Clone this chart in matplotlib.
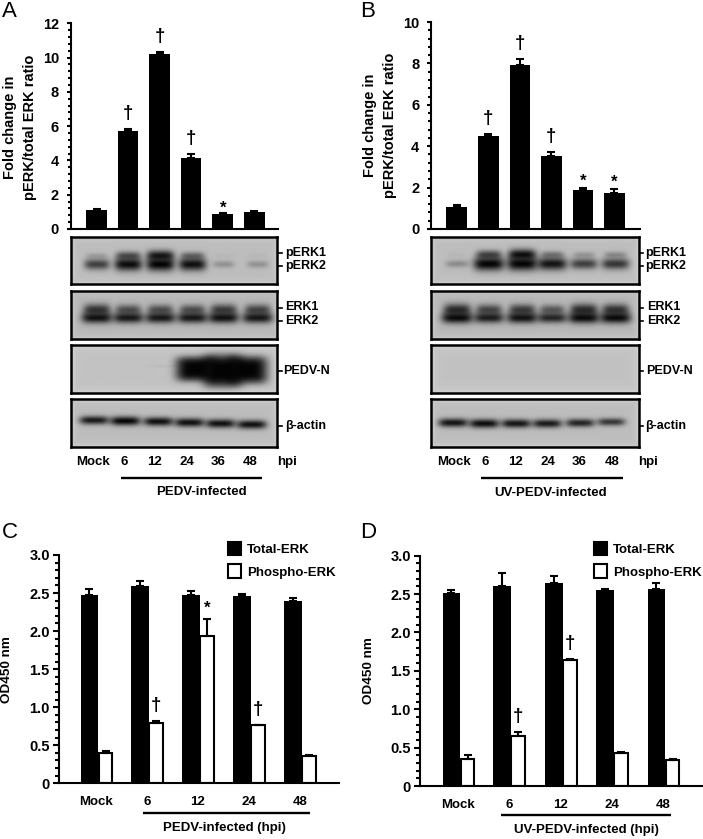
# western blot + ELISA figure, panels A-D
import numpy as np
import matplotlib
matplotlib.use("Agg")
import matplotlib.pyplot as plt
from matplotlib.patches import Patch

W, H = 703, 839
plt.rcParams['font.family'] = ['Liberation Sans', 'DejaVu Sans']
plt.rcParams['font.weight'] = 'bold'

# panel A / B: fold change
fold_a = [1.1, 5.7, 10.2, 4.15, 0.9, 1.0]
fold_a_err = [0.05, 0.15, 0.15, 0.2, 0.05, 0.05]
fold_a_sig = ['', 'd', 'd', 'd', '*', '']
fold_b = [1.08, 4.5, 7.9, 3.55, 1.9, 1.75]
fold_b_err = [0.08, 0.1, 0.3, 0.15, 0.08, 0.2]
fold_b_sig = ['', 'd', 'd', 'd', '*', '*']
lanes = ['Mock', '6', '12', '24', '36', '48']

# panel C / D: OD450
groups = ['Mock', '6', '12', '24', '48']
total_c = [2.48, 2.59, 2.48, 2.46, 2.40]
total_c_err = [0.07, 0.07, 0.05, 0.03, 0.03]
phospho_c = [0.40, 0.79, 1.93, 0.76, 0.36]
phospho_c_err = [0.03, 0.03, 0.23, 0.01, 0.01]
phospho_c_sig = ['', 'd', '*', 'd', '']
total_d = [2.51, 2.60, 2.65, 2.55, 2.57]
total_d_err = [0.04, 0.18, 0.09, 0.01, 0.08]
phospho_d = [0.35, 0.65, 1.64, 0.43, 0.34]
phospho_d_err = [0.05, 0.05, 0.01, 0.01, 0.01]
phospho_d_sig = ['', 'd', 'd', '', '']

# band strengths per lane (0 = nothing, 1 = burnt out)
perk1_a = [0.15, 0.55, 0.85, 0.42, 0.03, 0.03]
perk2_a = [0.65, 0.92, 0.97, 0.9, 0.22, 0.22]
erk1_a = [0.7, 0.55, 0.55, 0.55, 0.65, 0.6]
erk2_a = [0.88, 0.85, 0.85, 0.85, 0.88, 0.85]
pedv_a = [0.0, 0.0, 0.04, 1.0, 1.0, 1.0]
actin_a = [0.85, 0.95, 0.9, 0.9, 0.9, 0.9]
perk1_b = [0.03, 0.6, 0.9, 0.35, 0.2, 0.25]
perk2_b = [0.25, 1.0, 1.0, 0.88, 0.65, 0.7]
erk1_b = [0.75, 0.6, 0.65, 0.5, 0.75, 0.7]
erk2_b = [0.92, 0.82, 0.88, 0.78, 0.92, 0.92]
pedv_b = [0.0, 0.0, 0.0, 0.0, 0.0, 0.0]
actin_b = [0.88, 0.92, 0.88, 0.85, 0.8, 0.7]

fig = plt.figure(figsize=(W / 100, H / 100), dpi=100, facecolor='white')


def px_axes(x0, y0, x1, y1, **kw):
    return fig.add_axes([x0 / W, 1 - y1 / H, (x1 - x0) / W, (y1 - y0) / H], **kw)


# overlay in pixel coordinates for all loose labels
ov = px_axes(0, 0, W, H, zorder=10)
ov.set_xlim(0, W)
ov.set_ylim(H, 0)
ov.axis('off')
ov.patch.set_alpha(0)


def label(x, y, s, size=9.5, ha='center', **kw):
    ov.text(x, y, s, fontsize=size, ha=ha, va='center', **kw)


def style_axis(ax, ymax, major, minor, length, pad):
    ax.patch.set_alpha(0)
    for side in ['top', 'right']:
        ax.spines[side].set_visible(False)
    for side in ['left', 'bottom']:
        ax.spines[side].set_linewidth(1.5)
    ax.set_ylim(0, ymax)
    ax.set_yticks(np.arange(0, ymax + 1e-6, major))
    ax.set_yticks(np.arange(0, ymax + 1e-6, minor), minor=True)
    ax.tick_params(axis='y', which='major', width=1.5, length=length, pad=pad, labelsize=10.5)
    ax.tick_params(axis='y', which='minor', width=1.5, length=length * 0.68)


def mark(ax, x, top, sym, star_gap=0):
    # dagger or asterisk above an error bar, offset in pixels
    if sym == 'd':
        ax.annotate('\u2020', (x, top), xytext=(0, 11), textcoords='offset pixels',
                    ha='center', va='baseline', fontsize=13.5)
    elif sym == '*':
        ax.annotate('*', (x, top), xytext=(0, star_gap), textcoords='offset pixels',
                    ha='center', va='baseline', fontsize=12)


def fold_panel(x0, x1, y0, y1, first, vals, errs, sig, ymax, star_gap):
    ax = px_axes(x0, y0, x1, y1)
    spacing = 31.55
    ax.set_xlim((x0 - first) / spacing, (x1 - first) / spacing)
    pos = np.arange(len(vals))
    ax.bar(pos, vals, width=20.5 / spacing, color='black')
    ax.errorbar(pos, vals, yerr=[np.zeros(len(vals)), errs], fmt='none', ecolor='black',
                elinewidth=1.5, capsize=2.6, capthick=1.5)
    style_axis(ax, ymax, 2, 0.4, 3.1, 5.5)
    ax.set_xticks([])
    for p, v, e, s in zip(pos, vals, errs, sig):
        mark(ax, p, v + e, s, star_gap)
    return ax


def od_panel(x0, x1, y0, y1, centers, total, total_err, phospho, phospho_err, sig):
    ax = px_axes(x0, y0, x1, y1)
    ax.set_xlim(x0, x1)
    c = np.array(centers)
    ax.bar(c - 8.9, total, width=17.8, color='black')
    ax.errorbar(c - 8.9, total, yerr=[np.zeros(5), total_err], fmt='none', ecolor='black',
                elinewidth=1.5, capsize=2.6, capthick=1.5)
    ax.bar(c + 7.2, phospho, width=13.8, color='white', edgecolor='black', linewidth=1.5)
    ax.errorbar(c + 7.2, phospho, yerr=[np.zeros(5), phospho_err], fmt='none', ecolor='black',
                elinewidth=1.5, capsize=2.6, capthick=1.5)
    style_axis(ax, 3.0, 0.5, 0.1, 4.2, 2.7)
    ax.set_yticklabels(['0', '0.5', '1.0', '1.5', '2.0', '2.5', '3.0'])
    ax.set_xticks(c - 2)
    ax.set_xticklabels(groups, fontsize=9.5)
    ax.tick_params(axis='x', length=0, pad=9)
    for p, v, e, s in zip(c + 7.2, phospho, phospho_err, sig):
        mark(ax, p, v + e, s, 6)
    return ax


def blot(x0, y0, x1, y1, bands, bg=0.74, power=2):
    # bands: (strengths, lane centres, y centres, half width, half heights)
    xx, yy = np.meshgrid(np.arange(x0, x1, 0.5), np.arange(y0, y1, 0.5))
    img = np.full(xx.shape, bg)
    # lighter towards the membrane edges
    edge = np.minimum(np.minimum(xx - x0, x1 - xx), np.minimum(yy - y0, y1 - yy))
    img = img + 0.08 * np.exp(-edge / 3.0)
    for strengths, xcs, ycs, wx, hy in bands:
        for s, xc, yc, hh in zip(strengths, xcs, ycs, hy):
            if s <= 0:
                continue
            w = wx * (0.75 + 0.35 * s)
            h = hh * (0.5 + 0.8 * s)
            g = np.exp(-((xx - xc) / w) ** 4 - np.abs((yy - yc) / h) ** power)
            img = img * (1 - min(s * 1.02, 0.98) * g)
    ax = px_axes(x0, y0, x1, y1)
    ax.imshow(img, cmap='gray', vmin=0, vmax=1, extent=(x0, x1, y1, y0), aspect='auto',
              interpolation='bilinear')
    ax.set_xticks([])
    ax.set_yticks([])
    for sp in ax.spines.values():
        sp.set_linewidth(1.8)
    return ax


def side_tick(x, y):
    ov.plot([x, x + 3.5], [y, y], color='black', lw=1.2)


# bar charts
fold_panel(71, 278, 23.3, 229, 96.5, fold_a, fold_a_err, fold_a_sig, 12, 0)
fold_panel(431.3, 640, 22, 229, 456.7, fold_b, fold_b_err, fold_b_sig, 10, 2)
od_panel(59.3, 339, 555, 783.3, [98.3, 149, 200, 250.7, 301.7],
         total_c, total_c_err, phospho_c, phospho_c_err, phospho_c_sig)
od_panel(420.3, 702, 555.7, 786, [460.3, 511, 562.7, 613.7, 665.3],
         total_d, total_d_err, phospho_d, phospho_d_err, phospho_d_sig)

# blots A
la = [96.7, 128, 160, 192, 223, 257]
lb = [457, 488.7, 522, 552, 583.7, 615.3]
rows = [(236.7, 284), (290.7, 339), (345.3, 393), (399, 446.7)]
blot(71, rows[0][0], 277.3, rows[0][1],
     [(perk1_a, la, [256] * 6, 13, [4.5] * 6), (perk2_a, la, [264.5] * 6, 13, [5.2] * 6)])
blot(71, rows[1][0], 277.3, rows[1][1],
     [(erk1_a, la, [310] * 6, 13.5, [5.5] * 6), (erk2_a, la, [318] * 6, 14.5, [4.5] * 6)], bg=0.72)
blot(71, rows[2][0], 277.3, rows[2][1],
     [(pedv_a, [96.7, 128, 162, 195, 222, 247], [369, 369, 366, 369, 371, 370], 18,
       [9.5, 9.5, 2, 9.5, 12.5, 10.5])], bg=0.76, power=4)
blot(71, rows[3][0], 277.3, rows[3][1],
     [(actin_a, [94, 125, 158, 189, 220, 251],
       [420, 420.7, 421.3, 422.3, 423.3, 424.3], 14, [3.6] * 6)], bg=0.74)

# blots B
blot(431, rows[0][0], 639, rows[0][1],
     [(perk1_b, lb, [255] * 6, 13, [4.5] * 6), (perk2_b, lb, [264] * 6, 14, [5.2] * 6)])
blot(431, rows[1][0], 639, rows[1][1],
     [(erk1_b, lb, [310] * 6, 13.5, [5.5] * 6), (erk2_b, lb, [318] * 6, 14.5, [4.5] * 6)], bg=0.72)
blot(431, rows[2][0], 639, rows[2][1], [(pedv_b, lb, [370] * 6, 14, [5] * 6)], bg=0.76)
blot(431, rows[3][0], 639, rows[3][1],
     [(actin_b, [453, 484, 516, 547, 580, 611],
       [422.5, 423.3, 423.3, 423.3, 422.7, 421.7], 14, [3.6] * 6)], bg=0.74)

# side labels of the blots
for x_tick, x_txt, x_erk, x_n in [(278, 285, 285, 283.5), (639.5, 645.5, 647.5, 646)]:
    for y, s, x in [(252.7, 'pERK1', x_txt), (266, 'pERK2', x_txt), (307.5, 'ERK1', x_erk),
                    (320.5, 'ERK2', x_erk), (370.7, 'PEDV-N', x_n), (425.5, '\u03b2-actin', x_txt)]:
        side_tick(x_tick, y)
        label(x, y, s, size=9, ha='left')

# lane labels and brackets
xs_a = [92.7, 124.3, 155, 186.7, 217.7, 250, 287.3]
xs_b = [454, 485.3, 515.3, 548, 579.3, 612, 648]
for xs in [xs_a, xs_b]:
    for x, s in zip(xs, lanes + ['hpi']):
        label(x, 462.3, s)
ov.plot([120.7, 261.7], [477.7, 477.7], color='black', lw=1.7, solid_capstyle='butt')
ov.plot([481.3, 623], [477.7, 477.7], color='black', lw=1.7, solid_capstyle='butt')
label(201.7, 491.7, 'PEDV-infected')
label(550.7, 493, 'UV-PEDV-infected')
ov.plot([142.7, 310], [812.7, 812.7], color='black', lw=1.7, solid_capstyle='butt')
ov.plot([501.3, 671], [815, 815], color='black', lw=1.7, solid_capstyle='butt')
label(224, 827.7, 'PEDV-infected (hpi)')
label(586.3, 830, 'UV-PEDV-infected (hpi)')

# axis titles
label(10, 127, 'Fold change in', size=10.5, rotation=90)
label(30, 127, 'pERK/total ERK ratio', size=10.5, rotation=90)
label(370, 125, 'Fold change in', size=10.5, rotation=90)
label(390, 125, 'pERK/total ERK ratio', size=10.5, rotation=90)
label(7, 670, 'OD450 nm', size=9.7, rotation=90)
label(369, 671, 'OD450 nm', size=9.7, rotation=90)

# panel letters
for x, y, s in [(2, 17, 'A'), (360, 17, 'B'), (2, 537.7, 'C'), (360, 537.7, 'D')]:
    ov.text(x, y, s, fontsize=16, fontweight='normal', ha='left', va='baseline')

# legends
handles = [Patch(facecolor='black', edgecolor='black', linewidth=1.5),
           Patch(facecolor='white', edgecolor='black', linewidth=1.5)]
for x in [228, 594]:
    leg = fig.legend(handles, ['Total-ERK', 'Phospho-ERK'], loc='upper left',
                     bbox_to_anchor=(x / W, 1 - 541.5 / H), frameon=False, fontsize=9.5,
                     borderpad=0, borderaxespad=0, handlelength=1.0, handleheight=1.2,
                     handletextpad=0.45, labelspacing=0.65)
    leg.set_zorder(12)

fig.savefig('out.png', dpi=100)
plt.close(fig)
